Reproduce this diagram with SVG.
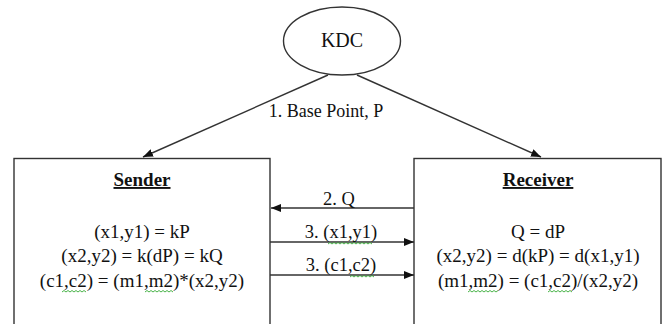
<svg xmlns="http://www.w3.org/2000/svg" width="665" height="324" viewBox="0 0 665 324">
<style>
text{font-family:"Liberation Serif","Times New Roman",serif;fill:#111;text-anchor:middle}
.t{font-size:19px}
.l{font-size:18.5px}
.h{font-size:19px;font-weight:bold;text-decoration:underline}
.box{fill:#fff;stroke:#333;stroke-width:1.4}
.c{stroke:#333;stroke-width:1.4;fill:none}
.sq{stroke:#3a3;stroke-width:0.9;fill:none}
</style>
<defs>
<marker id="ah" viewBox="0 0 10 8" refX="10" refY="4" markerWidth="10" markerHeight="8" markerUnits="userSpaceOnUse" orient="auto">
<path d="M0,0 L10,4 L0,8 z" fill="#111"/>
</marker>
</defs>
<rect width="665" height="324" fill="#fff"/>
<g id="kdc">
<ellipse cx="342" cy="41" rx="58.5" ry="34" class="box"/>
<text x="342" y="47" style="font-size:20px">KDC</text>
</g>
<g id="sender">
<rect x="14" y="158.5" width="256" height="180" class="box"/>
<text x="142" y="186" class="h">Sender</text>
<text x="142" y="238" class="t">(x1,y1) = kP</text>
<text x="142" y="262" class="t">(x2,y2) = k(dP) = kQ</text>
<text x="142" y="287" class="t">(c1,c2) = (m1,m2)*(x2,y2)</text>
<path class="sq" d="M62,292 l2,-1.5 l2,1.5 l2,-1.5 l2,1.5 l2,-1.5 l2,1.5 l2,-1.5 l2,1.5 l2,-1.5 l2,1.5 l2,-1.5 l2,1.5"/>
<path class="sq" d="M145,292 l2,-1.5 l2,1.5 l2,-1.5 l2,1.5 l2,-1.5 l2,1.5 l2,-1.5 l2,1.5 l2,-1.5 l2,1.5 l2,-1.5 l2,1.5 l2,-1.5 l2,1.5"/>
</g>
<g id="receiver">
<rect x="414" y="158.5" width="247" height="180" class="box"/>
<text x="538" y="186" class="h">Receiver</text>
<text x="538" y="238" class="t">Q = dP</text>
<text x="538" y="262" class="t">(x2,y2) = d(kP) = d(x1,y1)</text>
<text x="538" y="287" class="t">(m1,m2) = (c1,c2)/(x2,y2)</text>
<path class="sq" d="M468,292 l2,-1.5 l2,1.5 l2,-1.5 l2,1.5 l2,-1.5 l2,1.5 l2,-1.5 l2,1.5 l2,-1.5 l2,1.5 l2,-1.5 l2,1.5 l2,-1.5 l2,1.5 l2,-1.5"/>
<path class="sq" d="M548,292 l2,-1.5 l2,1.5 l2,-1.5 l2,1.5 l2,-1.5 l2,1.5 l2,-1.5 l2,1.5 l2,-1.5 l2,1.5 l2,-1.5 l2,1.5"/>
</g>
<g id="connectors">
<line x1="328" y1="75" x2="143" y2="157" class="c" marker-end="url(#ah)"/>
<line x1="357" y1="75" x2="541" y2="157" class="c" marker-end="url(#ah)"/>
<text x="326" y="117" style="font-size:18px">1. Base Point, P</text>
<line x1="414" y1="208" x2="271" y2="208" class="c" marker-end="url(#ah)"/>
<text x="339" y="205" class="l">2. Q</text>
<line x1="270" y1="242" x2="414" y2="242" class="c" marker-end="url(#ah)"/>
<text x="341" y="238" class="l">3. (x1,y1)</text>
<path class="sq" d="M328,244 l2,-1.5 l2,1.5 l2,-1.5 l2,1.5 l2,-1.5 l2,1.5 l2,-1.5 l2,1.5 l2,-1.5 l2,1.5 l2,-1.5 l2,1.5 l2,-1.5 l2,1.5 l2,-1.5 l2,1.5 l2,-1.5 l2,1.5 l2,-1.5 l2,1.5 l2,-1.5 l2,1.5"/>
<line x1="270" y1="275" x2="414" y2="275" class="c" marker-end="url(#ah)"/>
<text x="341" y="271" class="l">3. (c1,c2)</text>
<path class="sq" d="M350,277 l2,-1.5 l2,1.5 l2,-1.5 l2,1.5 l2,-1.5 l2,1.5 l2,-1.5 l2,1.5 l2,-1.5 l2,1.5 l2,-1.5 l2,1.5"/>
</g>
</svg>
